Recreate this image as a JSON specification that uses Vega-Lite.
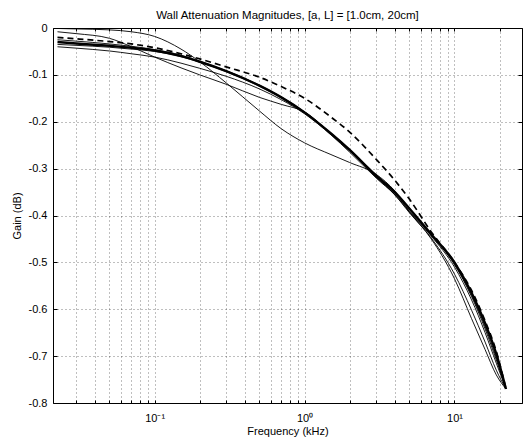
{
  "$schema": "https://vega.github.io/schema/vega-lite/v6.json",
  "width": 469,
  "height": 375,
  "autosize": "none",
  "padding": {"left": 53, "top": 28, "right": 5, "bottom": 40},
  "background": "white",
  "config": {
    "view": {"stroke": "#000", "strokeWidth": 1},
    "font": "Liberation Sans",
    "axis": {
      "labelFont": "Liberation Sans", "titleFont": "Liberation Sans",
      "labelFontSize": 11, "titleFontSize": 11, "titleFontWeight": "normal",
      "labelColor": "#000", "titleColor": "#000", "domain": false,
      "tickColor": "#000", "gridColor": "#000", "gridDash": [1, 3], "gridOpacity": 0.5
    }
  },
  "title": {"text": "Wall Attenuation Magnitudes, [a, L] = [1.0cm, 20cm]", "fontSize": 11.5, "fontWeight": "normal", "font": "Liberation Sans", "anchor": "middle", "offset": 1, "color": "#000"},
  "data": {"values": [
    {"f": 0.0225, "thick": -0.030, "dashed": -0.020, "b1": -0.025, "b2": -0.035, "b3": -0.040, "t2": -0.008, "t1": -0.001},
    {"f": 0.03, "thick": -0.033, "dashed": -0.023, "b1": -0.028, "b2": -0.037, "b3": -0.043, "t2": -0.012, "t1": -0.002},
    {"f": 0.05, "thick": -0.038, "dashed": -0.029, "b1": -0.034, "b2": -0.041, "b3": -0.049, "t2": -0.022, "t1": -0.004},
    {"f": 0.07, "thick": -0.042, "dashed": -0.034, "b1": -0.039, "b2": -0.045, "b3": -0.055, "t2": -0.040, "t1": -0.008},
    {"f": 0.1, "thick": -0.048, "dashed": -0.042, "b1": -0.046, "b2": -0.050, "b3": -0.062, "t2": -0.062, "t1": -0.018},
    {"f": 0.15, "thick": -0.060, "dashed": -0.055, "b1": -0.058, "b2": -0.061, "b3": -0.075, "t2": -0.085, "t1": -0.045},
    {"f": 0.2, "thick": -0.072, "dashed": -0.066, "b1": -0.071, "b2": -0.073, "b3": -0.086, "t2": -0.100, "t1": -0.072},
    {"f": 0.3, "thick": -0.092, "dashed": -0.083, "b1": -0.091, "b2": -0.093, "b3": -0.103, "t2": -0.120, "t1": -0.117},
    {"f": 0.5, "thick": -0.123, "dashed": -0.105, "b1": -0.122, "b2": -0.124, "b3": -0.130, "t2": -0.148, "t1": -0.177},
    {"f": 0.7, "thick": -0.148, "dashed": -0.125, "b1": -0.147, "b2": -0.149, "b3": -0.153, "t2": -0.163, "t1": -0.215},
    {"f": 1, "thick": -0.180, "dashed": -0.150, "b1": -0.179, "b2": -0.181, "b3": -0.183, "t2": -0.179, "t1": -0.245},
    {"f": 1.5, "thick": -0.225, "dashed": -0.190, "b1": -0.224, "b2": -0.226, "b3": -0.228, "t2": -0.226, "t1": -0.270},
    {"f": 2, "thick": -0.260, "dashed": -0.222, "b1": -0.259, "b2": -0.262, "b3": -0.265, "t2": -0.262, "t1": -0.287},
    {"f": 3, "thick": -0.315, "dashed": -0.280, "b1": -0.313, "b2": -0.318, "b3": -0.320, "t2": -0.318, "t1": -0.312},
    {"f": 4, "thick": -0.350, "dashed": -0.325, "b1": -0.349, "b2": -0.354, "b3": -0.356, "t2": -0.356, "t1": -0.348},
    {"f": 5, "thick": -0.385, "dashed": -0.365, "b1": -0.384, "b2": -0.390, "b3": -0.392, "t2": -0.394, "t1": -0.392},
    {"f": 7, "thick": -0.440, "dashed": -0.435, "b1": -0.440, "b2": -0.442, "b3": -0.444, "t2": -0.448, "t1": -0.450},
    {"f": 10, "thick": -0.500, "dashed": -0.500, "b1": -0.503, "b2": -0.505, "b3": -0.510, "t2": -0.525, "t1": -0.535},
    {"f": 13, "thick": -0.565, "dashed": -0.560, "b1": -0.570, "b2": -0.573, "b3": -0.580, "t2": -0.602, "t1": -0.620},
    {"f": 16, "thick": -0.630, "dashed": -0.625, "b1": -0.637, "b2": -0.642, "b3": -0.650, "t2": -0.670, "t1": -0.686},
    {"f": 19, "thick": -0.695, "dashed": -0.690, "b1": -0.703, "b2": -0.708, "b3": -0.715, "t2": -0.730, "t1": -0.740},
    {"f": 22.05, "thick": -0.770, "dashed": -0.770, "b1": -0.770, "b2": -0.770, "b3": -0.770, "t2": -0.770, "t1": -0.770}
  ]},
  "transform": [{"fold": ["thick", "dashed", "b1", "b2", "b3", "t1", "t2"], "as": ["s", "g"]}],
  "layer": [
    {
      "transform": [{"filter": {"field": "s", "oneOf": ["b1", "b2", "b3", "t1", "t2"]}}],
      "mark": {"type": "line", "color": "#000", "strokeWidth": 0.9, "interpolate": "monotone", "clip": true},
      "encoding": {
        "x": {"field": "f", "type": "quantitative", "scale": {"type": "log", "domain": [0.021, 28.2], "nice": false},
          "axis": {"orient": "bottom", "title": "Frequency (kHz)", "values": [0.03,0.04,0.05,0.06,0.07,0.08,0.09,0.1,0.2,0.3,0.4,0.5,0.6,0.7,0.8,0.9,1,2,3,4,5,6,7,8,9,10,20],
            "labelExpr": "datum.value == 0.1 ? '10⁻¹' : datum.value == 1 ? '10⁰' : datum.value == 10 ? '10¹' : ''",
            "grid": true, "tickSize": -3, "labelPadding": 12, "titlePadding": 2, "labelOverlap": false, "labelFlush": false}},
        "y": {"field": "g", "type": "quantitative", "scale": {"domain": [-0.8, 0], "nice": false},
          "axis": {"orient": "left", "title": "Gain (dB)", "values": [0,-0.1,-0.2,-0.3,-0.4,-0.5,-0.6,-0.7,-0.8],
            "labelExpr": "datum.value == 0 ? '0' : '' + datum.value",
            "grid": true, "tickSize": -4, "labelPadding": 10, "titlePadding": 6, "labelFlush": false, "labelOverlap": false}},
        "detail": {"field": "s"}
      }
    },
    {
      "transform": [{"filter": {"field": "s", "equal": "thick"}}],
      "mark": {"type": "line", "color": "#000", "strokeWidth": 2.4, "interpolate": "monotone", "clip": true},
      "encoding": {
        "x": {"field": "f", "type": "quantitative", "scale": {"type": "log", "domain": [0.021, 28.2], "nice": false},
          "axis": {"orient": "top", "title": null, "values": [0.03,0.04,0.05,0.06,0.07,0.08,0.09,0.1,0.2,0.3,0.4,0.5,0.6,0.7,0.8,0.9,1,2,3,4,5,6,7,8,9,10,20], "labels": false, "grid": false, "tickSize": -3}},
        "y": {"field": "g", "type": "quantitative", "scale": {"domain": [-0.8, 0], "nice": false},
          "axis": {"orient": "right", "title": null, "values": [0,-0.1,-0.2,-0.3,-0.4,-0.5,-0.6,-0.7,-0.8], "labels": false, "grid": false, "tickSize": -4}}
      }
    },
    {
      "transform": [{"filter": {"field": "s", "equal": "dashed"}}],
      "mark": {"type": "line", "color": "#000", "strokeWidth": 1.7, "strokeDash": [6, 4], "interpolate": "monotone", "clip": true},
      "encoding": {
        "x": {"field": "f", "type": "quantitative", "scale": {"type": "log", "domain": [0.021, 28.2], "nice": false}, "axis": null},
        "y": {"field": "g", "type": "quantitative", "scale": {"domain": [-0.8, 0], "nice": false}, "axis": null}
      }
    }
  ],
  "resolve": {"axis": {"x": "independent", "y": "independent"}}
}
